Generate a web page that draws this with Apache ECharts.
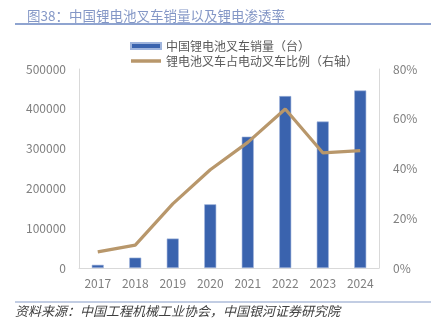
<!DOCTYPE html>
<html><head><meta charset="utf-8">
<script src="https://cdn.jsdelivr.net/npm/echarts@6/dist/echarts.min.js"></script>
<style>html,body{margin:0;padding:0;background:#fff}#c{width:433px;height:334px}</style>
</head><body><div id="c"></div>
<script>
const categories = ['2017','2018','2019','2020','2021','2022','2023','2024'];
const salesValues = [8000, 26000, 74000, 160000, 330000, 432000, 368000, 446000];
const ratioValues = [6.5, 9.2, 25.8, 39.5, 50.5, 63.9, 46.3, 47.2];
const leftTicks = [0, 100000, 200000, 300000, 400000, 500000];
const rightTicks = ['0%', '20%', '40%', '60%', '80%'];
const titleText = '图38：中国锂电池叉车销量以及锂电渗透率';
const sourceText = '资料来源：中国工程机械工业协会，中国银河证券研究院';
const seriesNames = ['中国锂电池叉车销量（台）', '锂电池叉车占电动叉车比例（右轴）'];

const font = '"Noto Sans CJK SC", "Noto Sans", sans-serif';
const chart = echarts.init(document.getElementById('c'), null, {renderer: 'canvas'});
chart.setOption({
  animation: false,
  textStyle: {fontFamily: font},
  title: {text: titleText, left: 22, top: 4,
    textStyle: {fontSize: 13.5, fontWeight: 'normal', color: '#8497c6', fontFamily: font}},
  graphic: [
    {type: 'line', shape: {x1: 15, y1: 24, x2: 431, y2: 24}, style: {stroke: '#6a86c0', lineWidth: 1.5}},
    {type: 'line', shape: {x1: 15, y1: 302, x2: 431, y2: 302}, style: {stroke: '#aebdda', lineWidth: 1.5}},
    {type: 'text', left: 15, top: 305, style: {text: sourceText, font: 'italic 13px ' + font, fill: '#404040'}}
  ],
  legend: {orient: 'vertical', left: 125, top: 35, itemWidth: 30, itemHeight: 6, itemGap: 3,
    textStyle: {fontSize: 12, color: '#595959', fontFamily: font},
    data: [{name: seriesNames[0], icon: 'rect'},
           {name: seriesNames[1], icon: 'path://M0,0H30V3.5H0Z'}]},
  grid: {left: 79, right: 54, top: 69, bottom: 66},
  xAxis: {type: 'category', data: categories,
    axisLine: {lineStyle: {color: '#d9d9d9'}}, axisTick: {show: false},
    axisLabel: {color: '#7f7f7f', fontSize: 12, margin: 9}},
  yAxis: [
    {type: 'value', min: 0, max: 500000, interval: 100000, splitLine: {show: false},
      axisLine: {show: true, lineStyle: {color: '#d9d9d9'}},
      axisLabel: {color: '#7f7f7f', fontSize: 12, margin: 13,
        formatter: v => String(leftTicks[Math.round(v / 100000)])}},
    {type: 'value', min: 0, max: 80, interval: 20, splitLine: {show: false},
      axisLine: {show: true, lineStyle: {color: '#d9d9d9'}},
      axisLabel: {color: '#7f7f7f', fontSize: 12, margin: 14,
        formatter: v => rightTicks[Math.round(v / 20)]}}
  ],
  series: [
    {name: seriesNames[0], type: 'bar', data: salesValues, barWidth: 12,
      itemStyle: {color: '#3a63ae', borderColor: '#9fb4dc', borderWidth: 0.6}},
    {name: seriesNames[1], type: 'line', yAxisIndex: 1, data: ratioValues,
      symbol: 'none', lineStyle: {color: '#b8976b', width: 3.2}, itemStyle: {color: '#b8976b'}}
  ]
});
</script></body></html>
